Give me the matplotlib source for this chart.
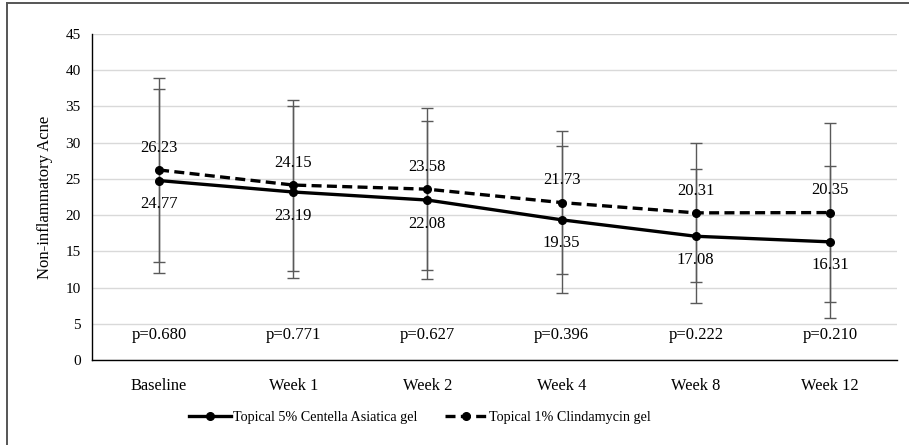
import matplotlib
matplotlib.use("Agg")
import matplotlib.pyplot as plt
from matplotlib.lines import Line2D

categories = ["Baseline", "Week 1", "Week 2", "Week 4", "Week 8", "Week 12"]
centella = [24.77, 23.19, 22.08, 19.35, 17.08, 16.31]
centella_sd = [12.7, 11.9, 10.85, 10.15, 9.25, 10.5]
clinda = [26.23, 24.15, 23.58, 21.73, 20.31, 20.35]
clinda_sd = [12.7, 11.8, 11.18, 9.87, 9.6, 12.35]
pvalues = ["p=0.680", "p=0.771", "p=0.627", "p=0.396", "p=0.222", "p=0.210"]
yticks = [0, 5, 10, 15, 20, 25, 30, 35, 40, 45]

plt.rcParams['font.family'] = ['Liberation Serif', 'DejaVu Serif']
plt.rcParams['font.size'] = 12

fig = plt.figure(figsize=(9.09, 4.45), dpi=100)
ax = fig.add_axes([92/909, 1-360/445, (897-92)/909, (360-34)/445])

x = list(range(len(categories)))
ecol = "#595959"
ax.errorbar(x, clinda, yerr=clinda_sd, fmt='none', ecolor=ecol, elinewidth=1, capsize=4, capthick=1, zorder=2)
ax.errorbar(x, centella, yerr=centella_sd, fmt='none', ecolor=ecol, elinewidth=1, capsize=4, capthick=1, zorder=2)
ax.plot(x, centella, color='black', lw=2.4, marker='o', ms=5.5, zorder=3,
        label="Topical 5% Centella Asiatica gel")
ax.plot(x, clinda, color='black', lw=2.4, ls=(0, (3, 1.6)), marker='o', ms=5.5, zorder=3,
        label="Topical 1% Clindamycin gel")

for i in x:
    ax.annotate(f"{clinda[i]:.2f}", (i, clinda[i]), xytext=(0, 16), textcoords='offset points',
                ha='center', va='center', fontsize=12, zorder=4)
    ax.annotate(f"{centella[i]:.2f}", (i, centella[i]), xytext=(0, -17), textcoords='offset points',
                ha='center', va='center', fontsize=12, zorder=4)
    ax.text(i, 3.4, pvalues[i], ha='center', va='center', fontsize=12)

ax.set_xlim(-0.5, len(categories) - 0.5)
ax.set_ylim(0, 45)
ax.set_yticks(yticks)
ax.set_xticks(x)
ax.set_xticklabels(categories)
ax.tick_params(axis='both', length=0, labelsize=11)
ax.tick_params(axis='x', pad=13, labelsize=11.8)
ax.tick_params(axis='y', pad=8)
ax.yaxis.grid(True, color='#d9d9d9', lw=1)
ax.set_axisbelow(True)
for s in ['top', 'right']:
    ax.spines[s].set_visible(False)
ax.spines['left'].set_color('black')
ax.spines['bottom'].set_color('black')
ax.spines['left'].set_linewidth(1)
ax.spines['bottom'].set_linewidth(1)
ax.set_ylabel("Non-inflammatory Acne", fontsize=12, labelpad=9)

handles, labels = ax.get_legend_handles_labels()
fig.legend(handles, labels, loc='center', bbox_to_anchor=(420/909, 1-417/445), ncol=2,
           frameon=False, fontsize=10.2, handlelength=3.0, columnspacing=1.9, handletextpad=0.15)

fig.add_artist(Line2D([6.5/909, 6.5/909], [0, 1-2.5/445], transform=fig.transFigure,
                      color='#555555', lw=1.4))
fig.add_artist(Line2D([6.5/909, 1], [1-2.5/445, 1-2.5/445], transform=fig.transFigure,
                      color='#555555', lw=1.4))

fig.savefig("out.png", dpi=100)
